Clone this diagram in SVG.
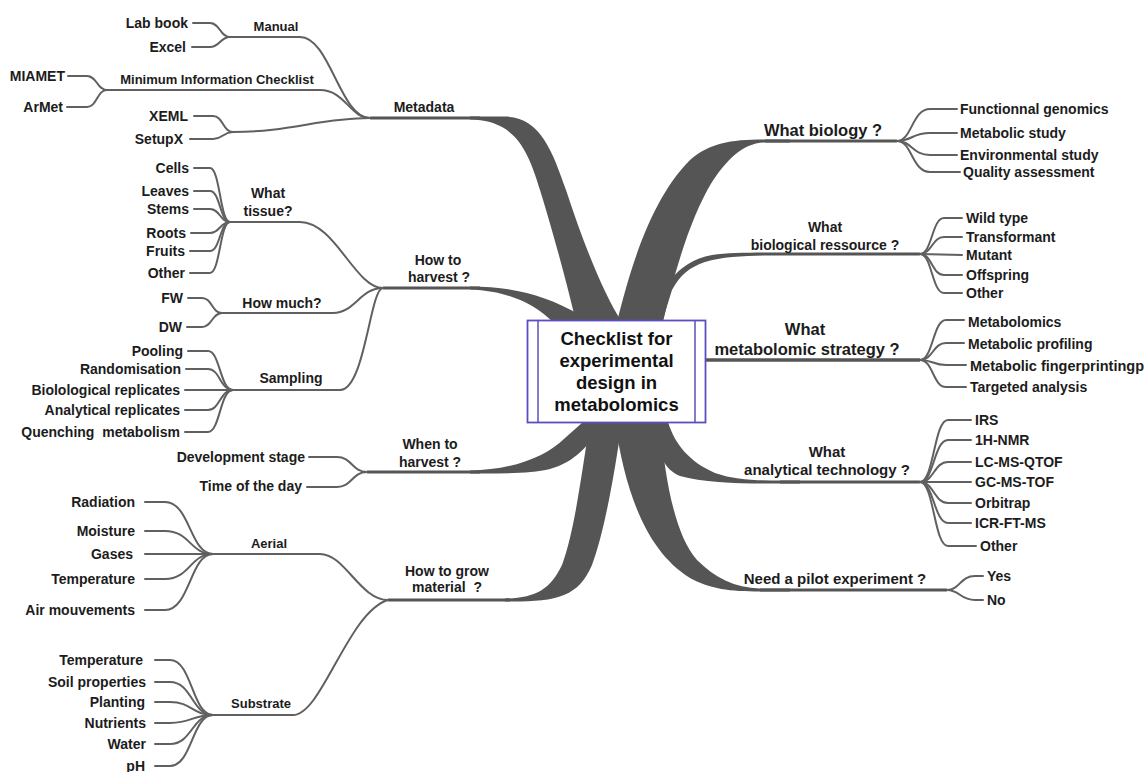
<svg xmlns="http://www.w3.org/2000/svg" width="1145" height="772" viewBox="0 0 1145 772">
<style>
.t{font-family:"Liberation Sans",Arial,sans-serif;font-weight:bold;font-size:14px;fill:#1c1c1c}
.e{text-anchor:end}.s{text-anchor:start}.m{text-anchor:middle}
.sm{font-size:13px}.big{font-size:16.5px}.mid{font-size:15px}
.ctr{font-size:18.5px;text-anchor:middle;fill:#111}
.ln{fill:none;stroke:#606060;stroke-width:2;stroke-linecap:round}
.mn{fill:none;stroke:#555;stroke-width:3}
.th{fill:#555}
</style>
<rect width="1145" height="772" fill="#fff"/>
<g id="connectors">
<!-- thick trunks -->
<path class="th" d="M470 116.5 L505 116.5 C540 117 552 150 566 190 C584 245 604 295 622 322 L576 322 C566 280 553 232 540 190 C528 150 515 120 470 119.5 Z"/>
<path class="th" d="M470 286.5 C515 287 545 295 580 315 L590 322 L553 322 C535 305 510 291 470 289.5 Z"/>
<path class="th" d="M470 470.5 C510 470 545 458 565 438 L583 422 L603 422 C590 445 575 462 550 469 C530 474 500 473.5 470 473.5 Z"/>
<path class="th" d="M505 598.5 C535 598 550 590 562 565 C575 530 582 470 590 422 L622 422 C615 470 605 530 592 565 C578 598 555 602 505 601.5 Z"/>
<path class="th" d="M617 322 C630 270 650 200 690 160 C710 143 730 139.5 765 139.5 L790 139.5 L790 142.5 L765 142.5 C742 143 727 160 712 182 C692 215 676 265 663 322 Z"/>
<path class="th" d="M655 322 C660 290 675 262 712 255 C730 252.5 752 252.5 780 252.5 L780 255.5 C752 255.5 725 256 705 262 C690 267 680 275 672 290 L662 322 Z"/>
<path class="th" d="M668 422 C675 445 690 462 715 473 C735 480 755 480.5 780 480.5 L800 480.5 L800 483.5 L780 483.5 C745 484 705 483 680 476 C665 470 658 455 650 422 Z"/>
<path class="th" d="M615 422 C625 490 645 550 690 578 C710 589 730 591.5 760 591.5 L790 591.5 L790 588.5 L760 588.5 C735 588 715 578 697 560 C675 535 665 480 660 422 Z"/>
<!-- main lines -->
<path class="mn" d="M370 118 L480 118"/>
<path class="mn" d="M383 288 L480 288"/>
<path class="mn" d="M367 472 L480 472"/>
<path class="mn" d="M388 600 L510 600"/>
<path class="mn" d="M765 141 L897 141"/>
<path class="mn" d="M780 254 L920 254"/>
<path class="mn" d="M705 360 L920 360" style="stroke-width:3.5"/>
<path class="mn" d="M780 482 L920 482"/>
<path class="mn" d="M760 590 L947 590"/>
<!-- metadata -->
<path class="ln" d="M193 23 L210 23 C220 23 220 37 230 37"/>
<path class="ln" d="M192 47 L210 47 C220 47 220 37 230 37"/>
<path class="ln" d="M68 76 L87 76 C97 76 97 90 107 90"/>
<path class="ln" d="M67 107 L87 107 C97 107 97 90 107 90"/>
<path class="ln" d="M194 116 L213 116 C223 116 223 132 233 132"/>
<path class="ln" d="M190 139 L213 139 C223 139 223 132 233 132"/>
<path class="ln" d="M230 37 L300 37 C330 37 340 118 370 118"/>
<path class="ln" d="M107 90 L320 90 C345 90 350 118 370 118"/>
<path class="ln" d="M233 132 C290 132 320 118 370 118"/>
<!-- harvest -->
<path class="ln" d="M194 168 L210 168 C220 168 220 222 230 222"/>
<path class="ln" d="M194 191 L210 191 C220 191 220 222 230 222"/>
<path class="ln" d="M194 209 L210 209 C220 209 220 222 230 222"/>
<path class="ln" d="M191 233 L210 233 C220 233 220 222 230 222"/>
<path class="ln" d="M190 251 L210 251 C220 251 220 222 230 222"/>
<path class="ln" d="M190 273 L210 273 C220 273 220 222 230 222"/>
<path class="ln" d="M230 222 L300 222 C335 222 355 288 383 288"/>
<path class="ln" d="M188 298 L202 298 C212 298 212 313 222 313"/>
<path class="ln" d="M187 327 L202 327 C212 327 212 313 222 313"/>
<path class="ln" d="M222 313 L333 313 C355 313 360 288 383 288"/>
<path class="ln" d="M188 351 L208 351 C220 351 220 390 233 390"/>
<path class="ln" d="M186 369 L208 369 C220 369 220 390 233 390"/>
<path class="ln" d="M185 390 L233 390"/>
<path class="ln" d="M185 410 L208 410 C220 410 220 390 233 390"/>
<path class="ln" d="M185 432 L208 432 C220 432 220 390 233 390"/>
<path class="ln" d="M233 390 L340 390 C365 390 370 288 383 288"/>
<!-- when -->
<path class="ln" d="M309 457 L337 457 C352 457 352 472 367 472"/>
<path class="ln" d="M307 487 L337 487 C352 487 352 472 367 472"/>
<!-- grow -->
<path class="ln" d="M145 502 L165 502 C190 502 190 554 213 554"/>
<path class="ln" d="M145 531 L165 531 C190 531 190 554 213 554"/>
<path class="ln" d="M145 554 L213 554"/>
<path class="ln" d="M145 579 L165 579 C190 579 190 554 213 554"/>
<path class="ln" d="M145 610 L165 610 C190 610 190 554 213 554"/>
<path class="ln" d="M213 554 L320 554 C345 554 360 600 388 600"/>
<path class="ln" d="M155 660 L170 660 C192 660 192 715 213 715"/>
<path class="ln" d="M155 682 L170 682 C192 682 192 715 213 715"/>
<path class="ln" d="M155 702 L170 702 C192 702 192 715 213 715"/>
<path class="ln" d="M155 723 L170 723 C192 723 192 715 213 715"/>
<path class="ln" d="M155 744 L170 744 C192 744 192 715 213 715"/>
<path class="ln" d="M155 766 L170 766 C192 766 192 715 213 715"/>
<path class="ln" d="M213 715 L293 715 C322 715 348 612 388 600"/>
<!-- biology -->
<path class="ln" d="M897 141 C912 141 912 109 930 109 L957 109"/>
<path class="ln" d="M897 141 C912 141 912 133 930 133 L957 133"/>
<path class="ln" d="M897 141 C912 141 912 155 930 155 L957 155"/>
<path class="ln" d="M897 141 C912 141 912 172 930 172 L960 172"/>
<!-- resource -->
<path class="ln" d="M920 254 C932 254 932 218 944 218 L962 218"/>
<path class="ln" d="M920 254 C932 254 932 237 944 237 L962 237"/>
<path class="ln" d="M920 254 L962 255"/>
<path class="ln" d="M920 254 C932 254 932 275 944 275 L962 275"/>
<path class="ln" d="M920 254 C932 254 932 293 944 293 L962 293"/>
<!-- strategy -->
<path class="ln" d="M920 360 C933 360 933 320 946 320 L964 320"/>
<path class="ln" d="M920 360 C933 360 933 343 946 343 L964 343"/>
<path class="ln" d="M920 360 C933 360 933 365 946 365 L966 365"/>
<path class="ln" d="M920 360 C933 360 933 387 946 387 L966 387"/>
<!-- analytical -->
<path class="ln" d="M920 482 C934 482 934 420 948 420 L971 420"/>
<path class="ln" d="M920 482 C934 482 934 440 948 440 L971 440"/>
<path class="ln" d="M920 482 C934 482 934 462 948 462 L971 462"/>
<path class="ln" d="M920 482 L971 482"/>
<path class="ln" d="M920 482 C934 482 934 503 948 503 L971 503"/>
<path class="ln" d="M920 482 C934 482 934 523 948 523 L971 523"/>
<path class="ln" d="M920 482 C934 482 934 546 948 546 L976 546"/>
<!-- pilot -->
<path class="ln" d="M947 590 C960 590 960 576 975 576 L983 576"/>
<path class="ln" d="M947 590 C960 590 960 600 975 600 L983 600"/>
</g>

<g id="center">
<rect x="527.5" y="320.5" width="178" height="102" fill="#fff" stroke="#5a4fbf" stroke-width="1.8"/>
<line x1="538" y1="320.5" x2="538" y2="422.5" stroke="#5a4fbf" stroke-width="1.5"/>
<line x1="695" y1="320.5" x2="695" y2="422.5" stroke="#5a4fbf" stroke-width="1.5"/>
<text class="t ctr" x="616.5" y="345">Checklist for</text>
<text class="t ctr" x="616.5" y="367">experimental</text>
<text class="t ctr" x="616.5" y="389">design in</text>
<text class="t ctr" x="616.5" y="411">metabolomics</text>
</g>

<g id="metadata">
<text class="t m" x="424" y="112">Metadata</text>
<text class="t sm m" x="276" y="31">Manual</text>
<text class="t e" x="188" y="28">Lab book</text>
<text class="t e" x="186" y="52">Excel</text>
<text class="t sm m" x="217" y="84">Minimum Information Checklist</text>
<text class="t e" x="65" y="81">MIAMET</text>
<text class="t e" x="63" y="112">ArMet</text>
<text class="t e" x="188" y="121">XEML</text>
<text class="t e" x="183" y="144">SetupX</text>
</g>

<g id="how-to-harvest">
<text class="t m" x="438" y="265">How to</text>
<text class="t m" x="439" y="282">harvest ?</text>
<text class="t m" x="268" y="198">What</text>
<text class="t m" x="268" y="216">tissue?</text>
<text class="t e" x="189" y="173">Cells</text>
<text class="t e" x="189" y="196">Leaves</text>
<text class="t e" x="189" y="214">Stems</text>
<text class="t e" x="186" y="238">Roots</text>
<text class="t e" x="185" y="256">Fruits</text>
<text class="t e" x="185" y="278">Other</text>
<text class="t m" x="282" y="308">How much?</text>
<text class="t e" x="183" y="303">FW</text>
<text class="t e" x="182" y="332">DW</text>
<text class="t m" x="291" y="383">Sampling</text>
<text class="t e" x="183" y="356">Pooling</text>
<text class="t e" x="181" y="374">Randomisation</text>
<text class="t e" x="180" y="395">Biolological replicates</text>
<text class="t e" x="180" y="415">Analytical replicates</text>
<text class="t e" x="180" y="437" xml:space="preserve">Quenching  metabolism</text>
</g>

<g id="when-to-harvest">
<text class="t m" x="430" y="449">When to</text>
<text class="t m" x="430" y="467">harvest ?</text>
<text class="t e" x="305" y="462">Development stage</text>
<text class="t e" x="302" y="491">Time of the day</text>
</g>

<g id="how-to-grow">
<text class="t m" x="447" y="576">How to grow</text>
<text class="t m" x="447" y="592" xml:space="preserve">material  ?</text>
<text class="t sm m" x="269" y="548">Aerial</text>
<text class="t e" x="135" y="507">Radiation</text>
<text class="t e" x="135" y="536">Moisture</text>
<text class="t e" x="133" y="559">Gases</text>
<text class="t e" x="135" y="584">Temperature</text>
<text class="t e" x="135" y="615">Air mouvements</text>
<text class="t sm m" x="261" y="708">Substrate</text>
<text class="t e" x="143" y="665">Temperature</text>
<text class="t e" x="146" y="687">Soil properties</text>
<text class="t e" x="145" y="707">Planting</text>
<text class="t e" x="146" y="728">Nutrients</text>
<text class="t e" x="146" y="749">Water</text>
<text class="t e" x="145" y="771">pH</text>
</g>

<g id="what-biology">
<text class="t big m" x="823" y="136">What biology ?</text>
<text class="t s" x="960" y="114">Functionnal genomics</text>
<text class="t s" x="960" y="138">Metabolic study</text>
<text class="t s" x="960" y="160">Environmental study</text>
<text class="t s" x="963" y="177">Quality assessment</text>
</g>

<g id="biological-resource">
<text class="t m" x="825" y="232">What</text>
<text class="t m" x="825" y="250">biological ressource ?</text>
<text class="t s" x="966" y="223">Wild type</text>
<text class="t s" x="966" y="242">Transformant</text>
<text class="t s" x="966" y="260">Mutant</text>
<text class="t s" x="966" y="280">Offspring</text>
<text class="t s" x="966" y="298">Other</text>
</g>

<g id="metabolomic-strategy">
<text class="t big m" x="805" y="335">What</text>
<text class="t big m" x="807" y="355">metabolomic strategy ?</text>
<text class="t s" x="968" y="327">Metabolomics</text>
<text class="t s" x="968" y="349">Metabolic profiling</text>
<text class="t s" x="970" y="371" style="font-size:14.5px">Metabolic fingerprintingp</text>
<text class="t s" x="970" y="392">Targeted analysis</text>
</g>

<g id="analytical-technology">
<text class="t mid m" x="827" y="457">What</text>
<text class="t mid m" x="827" y="475">analytical technology ?</text>
<text class="t s" x="975" y="425">IRS</text>
<text class="t s" x="975" y="445">1H-NMR</text>
<text class="t s" x="975" y="467">LC-MS-QTOF</text>
<text class="t s" x="975" y="487">GC-MS-TOF</text>
<text class="t s" x="975" y="508">Orbitrap</text>
<text class="t s" x="975" y="528">ICR-FT-MS</text>
<text class="t s" x="980" y="551">Other</text>
</g>

<g id="pilot">
<text class="t mid m" x="835" y="584">Need a pilot experiment ?</text>
<text class="t s" x="987" y="581">Yes</text>
<text class="t s" x="987" y="605">No</text>
</g>
</svg>
